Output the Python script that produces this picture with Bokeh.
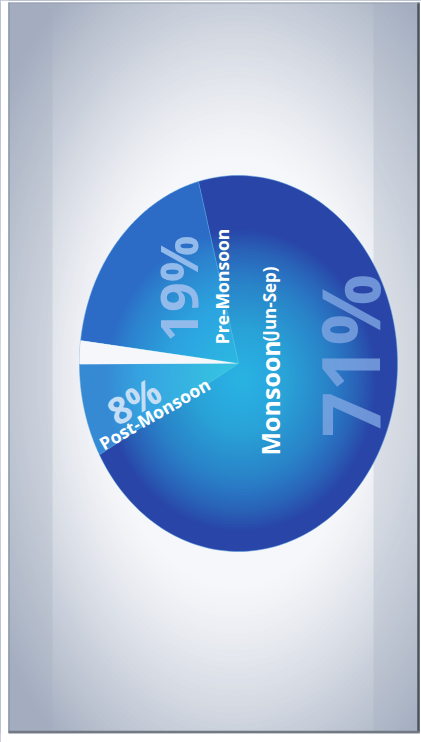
import numpy as np
from bokeh.plotting import figure
from bokeh.models import Range1d
from bokeh.core.properties import value
from bokeh.embed import file_html
from bokeh.resources import INLINE

# ---- data ----
seasons = ["Monsoon", "Pre-Monsoon", "Winter", "Post-Monsoon"]
shares = [71, 19, 2, 8]
pct_labels = ["71%", "19%", "", "8%"]
slice_colors = ["#2945a8", "#2c6bc6", "#f5f7fa", "#3689d3"]

W, H = 421, 742
def X(px):
    return px
def Y(py):
    return H - py

p = figure(width=W, height=H, x_range=Range1d(0, W), y_range=Range1d(0, H),
           output_backend="svg", toolbar_location=None, tools="",
           x_axis_location=None, y_axis_location=None, min_border=0)
p.grid.visible = False
p.outline_line_color = None
p.background_fill_color = "#a4aec0"
p.border_fill_color = "white"

# ---- background radial glow (decoration) ----
gray = np.array([164, 174, 192])
white = np.array([246, 247, 250])
N = 90
s = np.linspace(1.35, 0.15, N)
t = np.clip((s - 0.52) / 0.6, 0, 1) ** 1.2
cols = ["#%02x%02x%02x" % tuple(int(v) for v in (white + (gray - white) * ti)) for ti in t]
p.ellipse(x=[X(234)] * N, y=[Y(372)] * N, width=(2 * 260 * s).tolist(),
          height=(2 * 420 * s).tolist(), fill_color=cols, line_color=None)

# side strips
p.quad(left=[X(8), X(373)], right=[X(52), X(419)], bottom=[Y(732), Y(732)], top=[Y(2), Y(2)],
       fill_color="#a3adbe", fill_alpha=0.28, line_color=None)
# white outside the frame
p.quad(left=[0, X(419), 0, 0], right=[X(8), W, W, W],
       bottom=[0, 0, Y(2), 0], top=[H, H, H, Y(733)],
       fill_color="white", line_color=None)
# frame lines
p.segment(x0=[X(8.5)], y0=[Y(2)], x1=[X(8.5)], y1=[Y(732)], line_color="#8f98a8", line_width=1.5)
p.segment(x0=[X(418)], y0=[Y(2)], x1=[X(418)], y1=[Y(732)], line_color="#4d535c", line_width=2.5)
p.segment(x0=[X(8)], y0=[Y(731.5)], x1=[X(419)], y1=[Y(731.5)], line_color="#737983", line_width=2.5)
p.segment(x0=[X(8)], y0=[Y(2.5)], x1=[X(419)], y1=[Y(2.5)], line_color="#98a1b0", line_width=1)

# ---- pie ----
cx, cy = X(238), Y(363)
rx, ry = 159, 188
start_deg = 209
fr = np.array(shares, dtype=float) / sum(shares)
ends = start_deg + np.cumsum(fr) * 360
starts = ends - fr * 360
xs, ys = [], []
for a0, a1 in zip(starts, ends):
    th = np.radians(np.linspace(a0, a1, 160))
    xs.append(np.concatenate([[cx], cx + rx * np.cos(th), [cx]]).tolist())
    ys.append(np.concatenate([[cy], cy + ry * np.sin(th), [cy]]).tolist())

p.patches(xs, ys, fill_color=slice_colors, line_color="#4f9ee0", line_alpha=0.5, line_width=1)

# central glow
G = 50
g = np.linspace(1.0, 0.04, G)
p.ellipse(x=[X(240)] * G, y=[Y(380)] * G, width=(2 * 135 * g).tolist(),
          height=(2 * 150 * g).tolist(), fill_color="#48d2ff", fill_alpha=0.032,
          line_color=None)

# white gap slice on top
gi = seasons.index("Winter")
p.patch(xs[gi], ys[gi], fill_color="#f5f7fa", line_color=None)

# ---- labels ----
font = value("Open Sans")
p.text(x=[X(269)], y=[Y(455)], text=["Monsoon"], angle=np.pi / 2, text_font=font,
       text_font_style="bold", text_font_size="25px", text_color="white",
       text_align="left", text_baseline="alphabetic")
p.text(x=[X(269)], y=[Y(341)], text=["(Jun-Sep)"], angle=np.pi / 2, text_font=font,
       text_font_style="bold", text_font_size="17px", text_color="white",
       text_align="left", text_baseline="alphabetic")
p.text(x=[X(348)], y=[Y(355)], text=[pct_labels[0]], angle=np.pi / 2, text_font=font,
       text_font_style="bold", text_font_size="80px", text_color="#7fa6e2",
       text_alpha=0.8, text_align="center", text_baseline="alphabetic")
p.text(x=[X(177)], y=[Y(288)], text=[pct_labels[1]], angle=np.pi / 2, text_font=font,
       text_font_style="bold", text_font_size="52px", text_color="#92bbec",
       text_align="center", text_baseline="alphabetic")
p.text(x=[X(221)], y=[Y(286)], text=[seasons[1]], angle=np.pi / 2, text_font=font,
       text_font_style="bold", text_font_size="17.5px", text_color="white",
       text_align="center", text_baseline="alphabetic")
ang = np.radians(30)
p.text(x=[X(154)], y=[Y(413)], text=[seasons[3]], angle=ang, text_font=font,
       text_font_style="bold", text_font_size="17.5px", text_color="white",
       text_align="center", text_baseline="alphabetic")
p.text(x=[X(133)], y=[Y(400)], text=[pct_labels[3]], angle=ang, text_font=font,
       text_font_style="bold", text_font_size="37px", text_color="#c6def5",
       text_align="center", text_baseline="alphabetic")

open("out.html", "w").write(file_html(p, INLINE))
